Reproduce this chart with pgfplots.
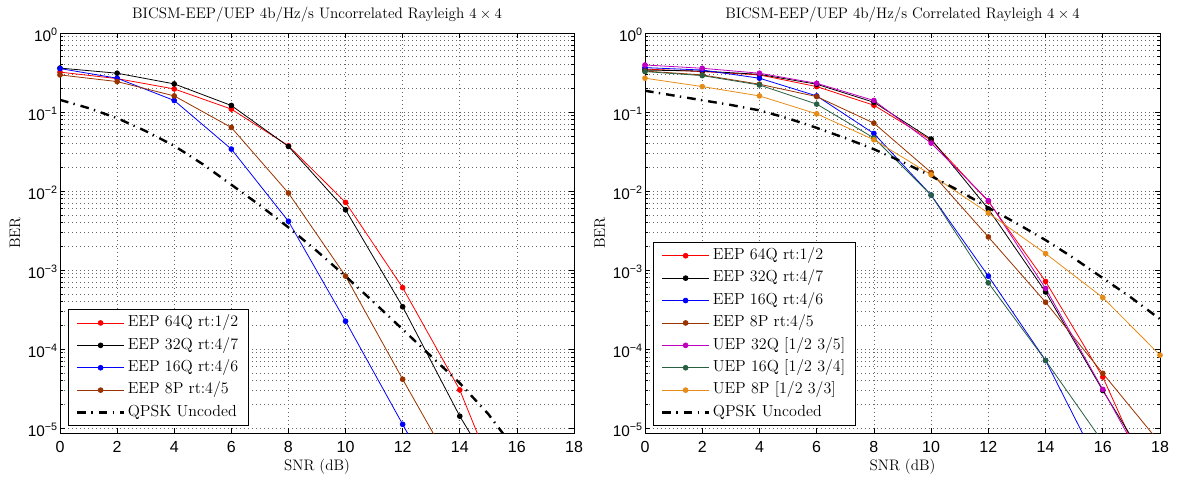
\documentclass[border=0pt]{standalone}
\usepackage{fontspec}
\usepackage{pgfplots}
\pgfplotsset{compat=1.18}
\newfontfamily\tickfont{Liberation Sans}
\newcommand{\lbl}{\fontsize{11.4}{13.5}\selectfont}
\definecolor{cbrown}{rgb}{0.6,0.2,0}
\definecolor{cmag}{rgb}{0.75,0,0.75}
\definecolor{cgreen}{RGB}{40,95,65}
\definecolor{corange}{RGB}{230,140,25}
\pgfplotsset{
  legend image code/.code={\draw[mark repeat=2,mark phase=2,#1] plot coordinates {(0pt,0pt) (17.5pt,0pt) (35pt,0pt)};},
  every axis title/.style={at={(axis description cs:0.5,1)}, anchor=center, yshift=14pt, font=\lbl},
  every axis x label/.style={at={(axis description cs:0.5,-0.085)}, anchor=center, font=\lbl},
  every axis y label/.style={at={(axis description cs:-0.0875,0.5)}, anchor=center, rotate=90, font=\lbl},
  every axis/.append style={
    scale only axis, height=300pt,
    xmin=0, xmax=18, ymin=8.7e-6, ymax=1,
    xtick={0,2,...,18}, xticklabels={0,2,4,6,8,10,12,14,16,18},
    ytick={1e-5,1e-4,1e-3,1e-2,1e-1,1},
    yticklabels={10\textsuperscript{−5},10\textsuperscript{−4},10\textsuperscript{−3},10\textsuperscript{−2},10\textsuperscript{−1},10\textsuperscript{0}},
    tick align=inside, major tick length=4pt, minor tick length=2.5pt,
    xmajorgrids, ymajorgrids, yminorgrids,
    minor grid style={line width=0.5pt, dash pattern=on 0.5pt off 2.5pt, black!60},
    major grid style={line width=0.5pt, dash pattern=on 0.5pt off 2.5pt, black!60},
    axis line style={line width=0.7pt},
    tick style={line width=0.5pt, black},
    xticklabel style={font=\fontsize{12}{14}\selectfont\tickfont, anchor=center, inner sep=0pt, yshift=-10.5pt},
    yticklabel style={font=\fontsize{11.5}{14}\selectfont\tickfont, anchor=east, inner sep=0pt, xshift=-1.5pt, yshift=-1.2pt},
    xlabel={\lbl SNR (dB)},
    ylabel={\lbl BER},
    legend cell align=left,
    legend style={at={(axis description cs:0,0)}, anchor=south west, xshift=6pt, yshift=5.25pt,
      font=\fontsize{12}{14}\selectfont, draw=black, line width=0.7pt,
      inner xsep=5.7pt, inner ysep=2pt, row sep=1.3pt,
      nodes={inner xsep=2pt, inner ysep=2pt, text height=8.5pt, text depth=3pt}},
  },
}
\tikzset{
  ser/.style={#1, line width=0.6pt, mark=*, mark size=1.8pt, mark options={solid, fill=#1, draw=#1}},
  qpsk/.style={black, line width=1.8pt, dash pattern=on 6.5pt off 4pt on 1pt off 4.5pt},
}
\begin{document}
\begin{tikzpicture}
\useasboundingbox (0,0) rectangle (882.75pt,359.25pt);
\begin{semilogyaxis}[at={(45pt,34.5pt)}, anchor=south west, width=385.5pt,
  title={\lbl BICSM-EEP/UEP 4b/Hz/s Uncorrelated Rayleigh $4\times4$}]
\addplot[ser=red] coordinates {(0,0.32) (2,0.265) (4,0.196) (6,0.109) (8,0.0374) (10,0.0072) (12,6.0e-4) (14,3.05e-5) (16,5e-7)};
\addlegendentry{EEP 64Q rt:1/2}
\addplot[ser=black] coordinates {(0,0.36) (2,0.31) (4,0.227) (6,0.121) (8,0.0367) (10,0.0058) (12,3.44e-4) (14,1.42e-5) (16,9e-7)};
\addlegendentry{EEP 32Q rt:4/7}
\addplot[ser=blue] coordinates {(0,0.355) (2,0.268) (4,0.14) (6,0.034) (8,0.00415) (10,2.26e-4) (12,1.12e-5) (14,5.6e-7)};
\addlegendentry{EEP 16Q rt:4/6}
\addplot[ser=cbrown] coordinates {(0,0.295) (2,0.243) (4,0.16) (6,0.0638) (8,0.00946) (10,8.4e-4) (12,4.16e-5) (14,2.2e-6)};
\addlegendentry{EEP 8P rt:4/5}
\addplot[qpsk, no marks] coordinates {(0,0.1426) (1,0.1122) (2,0.0838) (3,0.0575) (4,0.0374) (5,0.0219) (6,0.01205) (7,0.00661) (8,0.00347) (9,0.00174) (10,8.37e-4) (11,3.89e-4) (12,1.78e-4) (13,8.13e-5) (14,3.72e-5) (15,1.51e-5) (16,5.0e-6)};
\addlegendentry{QPSK Uncoded}
\end{semilogyaxis}
\begin{semilogyaxis}[at={(483.75pt,34.5pt)}, anchor=south west, width=386.25pt,
  title={\lbl BICSM-EEP/UEP 4b/Hz/s Correlated Rayleigh $4\times4$}]
\addplot[ser=red] coordinates {(0,0.35) (2,0.325) (4,0.295) (6,0.21) (8,0.122) (10,0.044) (12,0.0074) (14,7.2e-4) (16,4.45e-5) (18,1.1e-6)};
\addlegendentry{EEP 64Q rt:1/2}
\addplot[ser=black] coordinates {(0,0.34) (2,0.33) (4,0.30) (6,0.225) (8,0.133) (10,0.0455) (12,0.00594) (14,5.3e-4) (16,3.0e-5) (18,2e-6)};
\addlegendentry{EEP 32Q rt:4/7}
\addplot[ser=blue] coordinates {(0,0.365) (2,0.34) (4,0.268) (6,0.16) (8,0.0535) (10,0.0089) (12,8.4e-4) (14,7.2e-5) (16,2.7e-6)};
\addlegendentry{EEP 16Q rt:4/6}
\addplot[ser=cbrown] coordinates {(0,0.33) (2,0.295) (4,0.225) (6,0.157) (8,0.0724) (10,0.0172) (12,0.00263) (14,3.93e-4) (16,4.95e-5) (18,6.5e-6)};
\addlegendentry{EEP 8P rt:4/5}
\addplot[ser=cmag] coordinates {(0,0.394) (2,0.358) (4,0.31) (6,0.231) (8,0.14) (10,0.0405) (12,0.00757) (14,5.86e-4) (16,3.1e-5) (18,1.5e-6)};
\addlegendentry{UEP 32Q [1/2 3/5]}
\addplot[ser=cgreen] coordinates {(0,0.325) (2,0.289) (4,0.22) (6,0.126) (8,0.047) (10,0.0089) (12,6.9e-4) (14,7.2e-5) (16,6.7e-6)};
\addlegendentry{UEP 16Q [1/2 3/4]}
\addplot[ser=corange] coordinates {(0,0.268) (2,0.21) (4,0.16) (6,0.095) (8,0.0446) (10,0.0161) (12,0.00528) (14,0.00162) (16,4.5e-4) (18,8.4e-5)};
\addlegendentry{UEP 8P [1/2 3/3]}
\addplot[qpsk, no marks] coordinates {(0,0.186) (1,0.162) (2,0.141) (3,0.123) (4,0.105) (5,0.0832) (6,0.0631) (7,0.0468) (8,0.0339) (9,0.0234) (10,0.0155) (11,0.01) (12,0.00617) (13,0.00389) (14,0.0024) (15,0.00141) (16,7.94e-4) (17,4.47e-4) (18,2.4e-4)};
\addlegendentry{QPSK Uncoded}
\end{semilogyaxis}
\end{tikzpicture}
\end{document}
